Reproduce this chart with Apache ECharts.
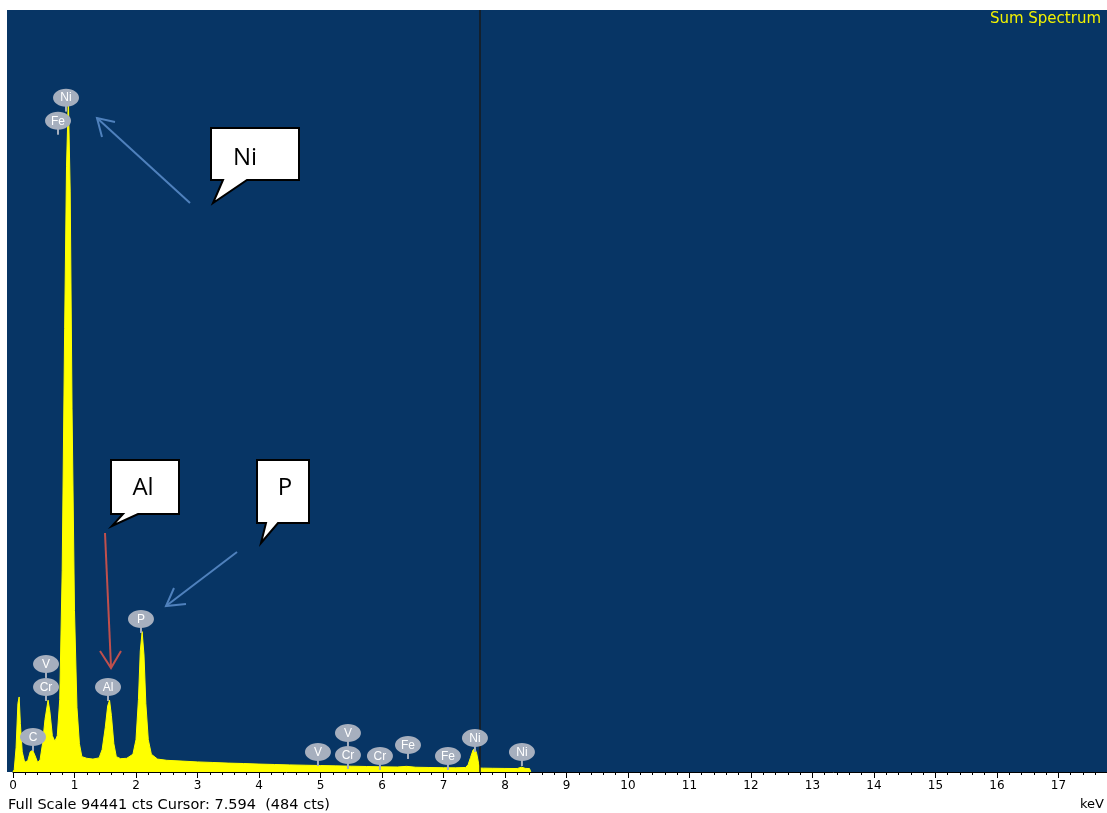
<!DOCTYPE html>
<html>
<head>
<meta charset="utf-8">
<title>Sum Spectrum</title>
<script src="https://cdn.jsdelivr.net/npm/echarts@6/dist/echarts.min.js"></script>
<style>
  html, body { margin: 0; padding: 0; background: #ffffff; }
  #chart { width: 1107px; height: 813px; }
</style>
</head>
<body>
<div id="chart"></div>
<script>
// EDS sum spectrum: energy (keV) against counts
const energyKeV = [
  0.00, 0.02, 0.05, 0.08, 0.10, 0.12, 0.15, 0.19, 0.24, 0.28, 0.32, 0.36, 0.40,
  0.44, 0.48, 0.52, 0.57, 0.60, 0.64, 0.68, 0.72, 0.76, 0.80, 0.84, 0.87, 0.90,
  0.93, 0.96, 1.00, 1.04, 1.08, 1.12, 1.20, 1.30, 1.40, 1.45, 1.50, 1.54, 1.57,
  1.60, 1.64, 1.68, 1.75, 1.85, 1.95, 2.00, 2.04, 2.07, 2.10, 2.13, 2.16, 2.20,
  2.25, 2.35, 2.50, 2.75, 3.00, 3.25, 3.50, 3.75, 4.00, 4.25, 4.50, 4.75, 5.00,
  5.25, 5.50, 5.75, 6.00, 6.25, 6.40, 6.55, 6.75, 7.00, 7.20, 7.36, 7.40, 7.44,
  7.48, 7.51, 7.54, 7.57, 7.594, 7.65, 7.80, 8.00, 8.20, 8.27, 8.33, 8.40, 8.42
];
const counts = [
  0, 300, 3000, 8500, 9300, 6000, 2500, 1200, 1400, 2500, 2700, 2000, 1200,
  1500, 3500, 6500, 8900, 7500, 4500, 3800, 4500, 9000, 25000, 55000, 75000, 83600,
  72000, 45000, 20000, 8000, 3500, 1900, 1700, 1600, 1750, 2800, 5500, 8200, 8900,
  7000, 3500, 1900, 1650, 1700, 2200, 4000, 9000, 15000, 17400, 14500, 8500, 4000,
  2200, 1600, 1450, 1350, 1250, 1180, 1100, 1050, 980, 930, 880, 840, 800,
  760, 720, 680, 640, 620, 700, 590, 560, 530, 520, 560, 900, 1800,
  2700, 2950, 2300, 1100, 484, 480, 460, 440, 430, 600, 450, 420, 0
];

// Element line markers: symbol, energy (keV), marker height (counts)
const peakLabelNames = ['Ni', 'Fe', 'V', 'Cr', 'C', 'Al', 'P', 'V', 'V', 'Cr', 'Cr', 'Fe', 'Fe', 'Ni', 'Ni'];
const peakLabelKeV   = [0.862, 0.732, 0.537, 0.537, 0.325, 1.545, 2.081, 4.959, 5.447, 5.447, 5.967, 6.423, 7.073, 7.512, 8.276];
const peakLabelCts   = [83580, 80720, 13390, 10540, 4340, 10540, 18970, 2480, 4840, 2110, 1980, 3350, 1980, 4220, 2480];

// Axis ticks and readouts
const xTickValues = [0, 1, 2, 3, 4, 5, 6, 7, 8, 9, 10, 11, 12, 13, 14, 15, 16, 17];
const fullScaleCts = 94441;
const cursorKeV = 7.594;
const cursorCts = 484;
const calloutTexts = ['Ni', 'Al', 'P'];

const spectrum = energyKeV.map((e, i) => [e, counts[i]]);
const peakLabels = peakLabelKeV.map((e, i) => [e, peakLabelCts[i]]);

const chart = echarts.init(document.getElementById('chart'), null, { renderer: 'canvas' });

const calloutStroke = { stroke: '#000000', lineWidth: 2, fill: '#ffffff' };
const calloutFont = '24px "Open Sans", sans-serif';
const blueArrow = { stroke: '#4F81BD', lineWidth: 2, fill: null };
const redArrow = { stroke: '#C0504D', lineWidth: 2, fill: null };

const option = {
  animation: false,
  backgroundColor: '#ffffff',
  grid: { left: 13, right: 0, top: 10, bottom: 41 },
  xAxis: {
    type: 'value',
    min: 0,
    max: 17.79,
    interval: 1,
    axisLine: { show: true, lineStyle: { color: '#000000', width: 1 } },
    axisTick: { show: true, length: 6, lineStyle: { color: '#000000' } },
    minorTick: { show: true, splitNumber: 5, length: 3, lineStyle: { color: '#000000' } },
    splitLine: { show: false },
    axisLabel: {
      color: '#000000',
      fontFamily: 'DejaVu Sans',
      fontSize: 12,
      margin: 8,
      showMaxLabel: false,
      formatter: v => (xTickValues.indexOf(v) >= 0 ? String(v) : '')
    }
  },
  yAxis: {
    type: 'value',
    min: 0,
    max: fullScaleCts,
    show: false,
    splitLine: { show: false }
  },
  graphic: [
    // plot background
    { type: 'rect', z: -100, silent: true, shape: { x: 7, y: 10, width: 1100, height: 762 }, style: { fill: '#073565' } },
    // title
    { type: 'text', z: 50, style: { x: 1101, y: 19, text: 'Sum Spectrum', fill: '#F2F200', font: '15px "DejaVu Sans"', align: 'right', verticalAlign: 'middle' } },
    // readout line
    { type: 'text', z: 50, style: { x: 8, y: 805, text: 'Full Scale ' + fullScaleCts + ' cts Cursor: ' + cursorKeV.toFixed(3) + '  (' + cursorCts + ' cts)', fill: '#000000', font: '14.5px "DejaVu Sans"', align: 'left', verticalAlign: 'middle' } },
    { type: 'text', z: 50, style: { x: 1104, y: 805, text: 'keV', fill: '#000000', font: '13px "DejaVu Sans"', align: 'right', verticalAlign: 'middle' } },

    // Ni callout
    { type: 'polygon', z: 60, shape: { points: [[211, 128], [299, 128], [299, 180], [247, 180], [213, 203], [223, 180], [211, 180]] }, style: calloutStroke },
    { type: 'text', z: 61, style: { x: 245, y: 158, text: calloutTexts[0], fill: '#000000', font: calloutFont, align: 'center', verticalAlign: 'middle' } },
    { type: 'polyline', z: 60, shape: { points: [[190, 203], [97, 118]] }, style: blueArrow },
    { type: 'polyline', z: 60, shape: { points: [[115, 122], [97, 118], [102, 137]] }, style: blueArrow },

    // Al callout
    { type: 'polygon', z: 60, shape: { points: [[111, 460], [179, 460], [179, 514], [138, 514], [112, 526], [123, 514], [111, 514]] }, style: calloutStroke },
    { type: 'text', z: 61, style: { x: 143, y: 488, text: calloutTexts[1], fill: '#000000', font: calloutFont, align: 'center', verticalAlign: 'middle' } },
    { type: 'polyline', z: 60, shape: { points: [[105, 533], [111, 667]] }, style: redArrow },
    { type: 'polyline', z: 60, shape: { points: [[100, 651], [111, 668], [121, 651]] }, style: redArrow },

    // P callout
    { type: 'polygon', z: 60, shape: { points: [[257, 460], [309, 460], [309, 523], [278, 523], [261, 543], [266, 523], [257, 523]] }, style: calloutStroke },
    { type: 'text', z: 61, style: { x: 285, y: 488, text: calloutTexts[2], fill: '#000000', font: calloutFont, align: 'center', verticalAlign: 'middle' } },
    { type: 'polyline', z: 60, shape: { points: [[237, 552], [166, 606]] }, style: blueArrow },
    { type: 'polyline', z: 60, shape: { points: [[186, 604], [166, 606], [174, 588]] }, style: blueArrow }
  ],
  series: [
    {
      type: 'line',
      data: spectrum,
      showSymbol: false,
      smooth: false,
      sampling: null,
      lineStyle: { color: '#FFFF00', width: 1 },
      areaStyle: { color: '#FFFF00', opacity: 1 },
      z: 3,
      markLine: {
        silent: true,
        symbol: 'none',
        label: { show: false },
        lineStyle: { color: '#1a1a1a', width: 1.5, type: 'solid' },
        data: [{ xAxis: cursorKeV }]
      }
    },
    {
      type: 'custom',
      data: peakLabels,
      clip: false,
      z: 10,
      renderItem: function (params, api) {
        const p = api.coord([api.value(0), api.value(1)]);
        const name = peakLabelNames[params.dataIndex];
        return {
          type: 'group',
          children: [
            { type: 'rect', shape: { x: p[0] - 1, y: p[1] + 7, width: 2, height: 7 }, style: { fill: '#A6AFBE' } },
            { type: 'ellipse', shape: { cx: p[0], cy: p[1], rx: 13, ry: 9 }, style: { fill: '#A6AFBE' } },
            { type: 'text', style: { x: p[0], y: p[1] + 0.5, text: name, fill: '#ffffff', font: '12px "Liberation Sans"', align: 'center', verticalAlign: 'middle' } }
          ]
        };
      }
    }
  ]
};

chart.setOption(option);
</script>
</body>
</html>
